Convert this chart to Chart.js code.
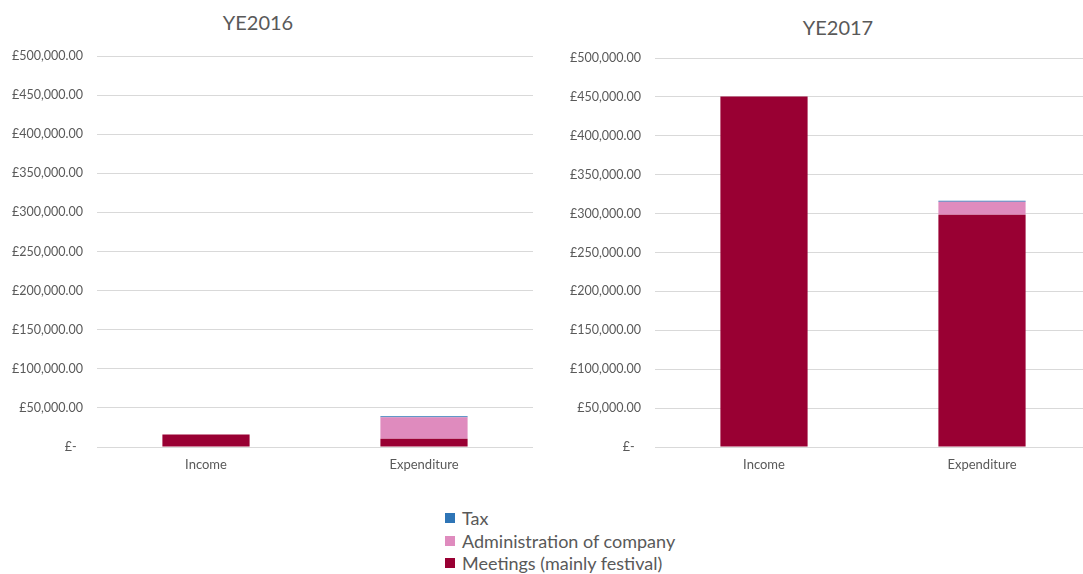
<!DOCTYPE html>
<html>
<head>
<meta charset="utf-8">
<script src="https://cdn.jsdelivr.net/npm/chart.js@4"></script>
<style>
  html, body { margin:0; padding:0; background:#fff; width:1083px; height:574px; overflow:hidden; position:relative; font-family: Lato, "Open Sans", sans-serif; }
  .box { position:absolute; }
  .title { position:absolute; color:#595959; font-size:20px; transform:translate(-50%,-50%); white-space:nowrap; }
  #legend { position:absolute; left:445px; top:507px; color:#595959; font-size:18px; }
  #legend .row { height:22.5px; line-height:22.5px; white-space:nowrap; display:flex; align-items:center; }
  #legend .sw { width:10px; height:10px; margin-right:7px; display:inline-block; }
</style>
</head>
<body>
<div class="title" style="left:258px; top:22px;">YE2016</div>
<div class="title" style="left:838px; top:27px;">YE2017</div>
<div class="box" style="left:0px; top:0px; width:540px; height:477px;"><canvas id="c1"></canvas></div>
<div class="box" style="left:558px; top:0px; width:540px; height:477px;"><canvas id="c2"></canvas></div>
<div id="legend"></div>
<script>
const categories = ["Income", "Expenditure"];
const seriesNames = ["Meetings (mainly festival)", "Administration of company", "Tax"];
const seriesColors = ["#990033", "#DF8BBE", "#2E75B6"];

const meetings2016 = [16000, 10500];
const admin2016 = [0, 27500];
const tax2016 = [0, 1300];

const meetings2017 = [450500, 298500];
const admin2017 = [0, 16800];
const tax2017 = [0, 1300];

const yTicks = [0, 50000, 100000, 150000, 200000, 250000, 300000, 350000, 400000, 450000, 500000];

function fmt(v) {
  if (v === 0) return "£-  ";
  return "£" + v.toLocaleString("en-GB", {minimumFractionDigits:2, maximumFractionDigits:2});
}

function makeChart(id, meetings, admin, tax, padTop) {
  const data = [meetings, admin, tax];
  new Chart(document.getElementById(id), {
    type: "bar",
    data: {
      labels: categories,
      datasets: data.map((d, i) => ({
        label: seriesNames[i],
        data: d,
        backgroundColor: seriesColors[i],
        borderWidth: 0,
        categoryPercentage: 1.0,
        barPercentage: 0.4
      }))
    },
    options: {
      responsive: true,
      maintainAspectRatio: false,
      animation: false,
      devicePixelRatio: 1,
      layout: { padding: { top: padTop, right: 7, bottom: 0, left: 0 } },
      plugins: { legend: { display: false }, title: { display: false }, tooltip: { enabled: false } },
      scales: {
        x: {
          stacked: true,
          grid: { display: false, drawTicks: false },
          border: { display: false },
          ticks: { color: "#595959", font: { family: "Lato", size: 13 }, padding: 10 },
          afterFit: s => { s.height = 30; }
        },
        y: {
          stacked: true,
          min: 0, max: 500000,
          afterBuildTicks: s => { s.ticks = yTicks.map(v => ({ value: v })); },
          grid: { color: "#D9D9D9", lineWidth: 1, drawTicks: false },
          border: { display: false },
          ticks: { color: "#595959", font: { family: "Lato", size: 12.5 }, padding: 14, callback: v => fmt(v) },
          afterFit: s => { s.width = 97; }
        }
      }
    }
  });
}

makeChart("c1", meetings2016, admin2016, tax2016, 56);
makeChart("c2", meetings2017, admin2017, tax2017, 58);

const legend = document.getElementById("legend");
for (let i = seriesNames.length - 1; i >= 0; i--) {
  const row = document.createElement("div");
  row.className = "row";
  const sw = document.createElement("span");
  sw.className = "sw";
  sw.style.background = seriesColors[i];
  const t = document.createElement("span");
  t.textContent = seriesNames[i];
  row.appendChild(sw); row.appendChild(t);
  legend.appendChild(row);
}
</script>
</body>
</html>
